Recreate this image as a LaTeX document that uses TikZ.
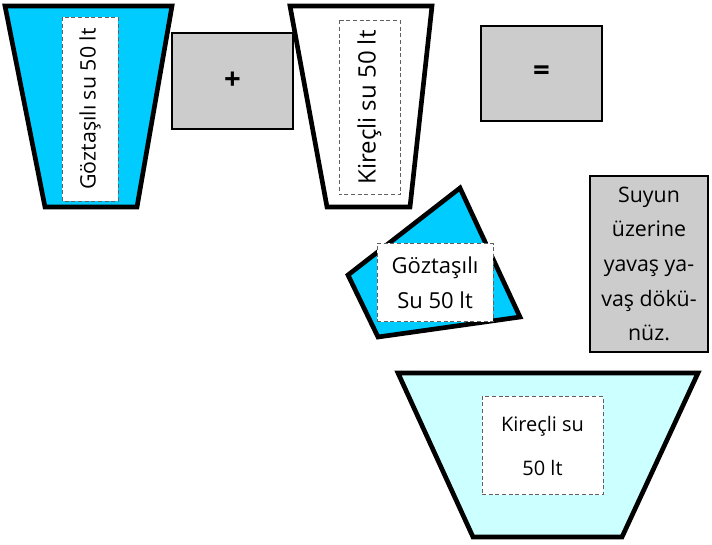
\documentclass[tikz,border=0pt]{standalone}
\usepackage{fontspec}
\setmainfont{Open Sans}
\usepackage{xcolor}
\usepackage{tikz}
\usetikzlibrary{calc,positioning}
\definecolor{ink}{HTML}{000000}
\definecolor{blue}{HTML}{00CCFF}
\definecolor{pale}{HTML}{CCFFFF}
\definecolor{grey}{HTML}{CCCCCC}
\definecolor{rim}{HTML}{606060}
\tikzset{
  cup/.style={draw=ink, line width=3.5pt, line join=miter},
  tag/.style={draw=rim, densely dashed, line width=0.6pt, fill=white, inner sep=0pt, align=center, font=\fontsize{18}{20}\selectfont},
  box/.style={draw=ink, line width=1.2pt, fill=grey, inner sep=0pt, align=center},
  sign/.style={font=\fontsize{22}{24}\selectfont\bfseries},
}
\begin{document}
\begin{tikzpicture}[x=0.75pt,y=-0.75pt]
\useasboundingbox (0,0) rectangle (712,544);

% first cup
\draw[cup, fill=blue] (5,6) -- (172,6) -- (137,207) -- (45,207) -- cycle;
\node[tag, font=\fontsize{16}{18}\selectfont, rotate=90, minimum width=138pt, minimum height=42pt] (tagA) at (90,109) {Göztaşılı su 50 lt};

% plus
\node[box, sign, minimum width=90.75pt, minimum height=72pt] (plus) at (232.5,81) {+};

% second cup
\draw[cup, fill=white] (290,6) -- (432,6) -- (410,207) -- (327,207) -- cycle;
\node[tag, rotate=90, minimum width=131pt, minimum height=45.75pt] (tagB) at (369.5,107.5) {Kireçli su 50 lt};

% equals
\node[box, sign, minimum width=90.75pt, minimum height=71pt] (equal) at (541.5,73.5) {=};

% poured water
\draw[cup, fill=blue] (460,188) -- (520,317) -- (378,337) -- (348,275) -- cycle;
\node[tag, font=\fontsize{16.5}{26}\selectfont, minimum width=87pt, minimum height=59pt] (tagC) at (435,282.5) {Göztaşılı\\Su 50 lt};

% note
\node[box, font=\fontsize{16}{26}\selectfont, minimum width=88.5pt, minimum height=132pt] (note) at (649,264) {Suyun\\üzerine\\yavaş ya-\\vaş dökü-\\nüz.};

% big tub
\draw[cup, fill=pale] (398,373) -- (698,373) -- (622,537) -- (473,537) -- cycle;
\node[tag, font=\fontsize{15}{33}\selectfont, minimum width=90.75pt, minimum height=74pt] (tagD) at (542.5,445.5) {Kireçli su\\50 lt};
\end{tikzpicture}
\end{document}
